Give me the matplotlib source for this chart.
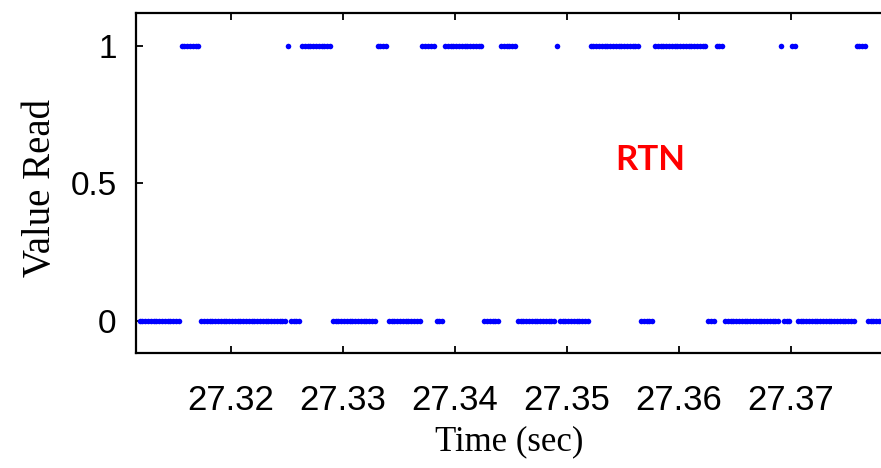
import numpy as np
import matplotlib
matplotlib.use("Agg")
import matplotlib.pyplot as plt

# sampled read-out of the cell: run lengths of each state, in samples
run_state = [0, 1, 0, 1, 0, 1, 0, 1, 0, 1, 0, 1, 0, 1, 0,
             1, 0, 1, 0, 1, 0, 1, 0, 1, 0, 1, 0, 1, 0]
run_length = [15, 7, 31, 1, 4, 11, 16, 4, 12, 5, 3, 14, 6, 6, 14,
              1, 11, 18, 5, 19, 3, 3, 20, 1, 3, 2, 21, 4, 5]

t_start = 27.31185   # first sample (s)
t_step = 0.00025     # sampling period (s)

x_ticks = [27.32, 27.33, 27.34, 27.35, 27.36, 27.37]
y_ticks = [0, 0.5, 1]
y_ticklabels = ["0", "0.5", "1"]

values = np.repeat(run_state, run_length)
times = t_start + t_step * np.arange(len(values))

fig = plt.figure(figsize=(8.81, 4.68), dpi=100)
ax = fig.add_axes([136 / 881, 1 - 353 / 468, 747 / 881, 340 / 468])

ax.plot(times, values, linestyle="none", marker="o", markersize=4.0,
        markeredgewidth=0, color="#0000ff")

ax.set_xlim(27.31153, 27.3782)
ax.set_ylim(-0.1164, 1.12)
ax.set_xticks(x_ticks)
ax.set_xticklabels([f"{t:.2f}" for t in x_ticks])
ax.set_yticks(y_ticks)
ax.set_yticklabels(y_ticklabels)

for s in ax.spines.values():
    s.set_linewidth(1.6)
ax.tick_params(direction="in", length=5, width=1.3, top=True, right=False,
               labelsize=24)
ax.tick_params(axis="x", labelsize=25, pad=22)
ax.tick_params(axis="y", pad=14)
for lab in ax.get_xticklabels() + ax.get_yticklabels():
    lab.set_family("Liberation Sans")

ax.set_xlabel("Time (sec)", family="Liberation Serif", fontsize=25)
ax.xaxis.set_label_coords(0.5, -0.262)
ax.xaxis.label.set_va("center")
ax.set_ylabel("Value Read", family="Liberation Serif", fontsize=28)
ax.yaxis.set_label_coords(-0.1285, 0.485)
ax.yaxis.label.set_va("center")

ax.text(27.3574, 0.585, "RTN", color="#ff0000", fontsize=25,
        fontweight="bold", family="Lato", ha="center", va="center")

fig.savefig("out.png", dpi=100)
